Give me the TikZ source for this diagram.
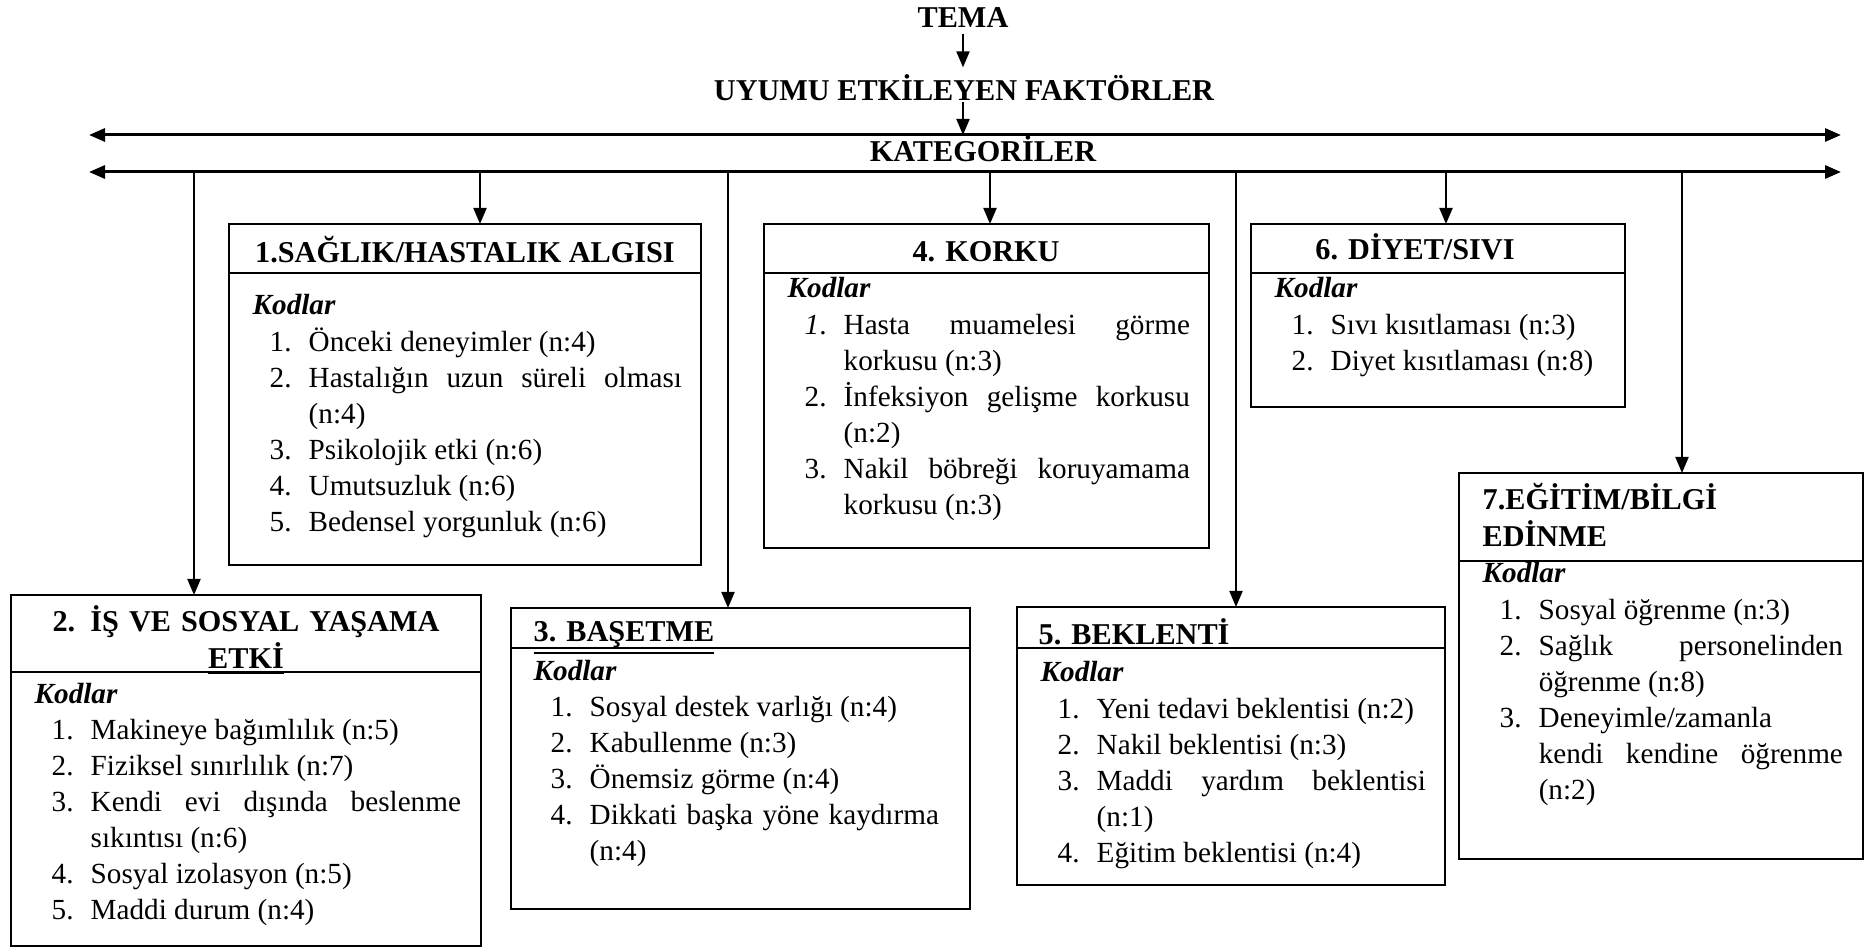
\documentclass[tikz,border=0pt]{standalone}
\usepackage{fontspec}
\setmainfont{Liberation Serif}
\usetikzlibrary{arrows.meta,positioning}

\newcommand{\govde}{\fontsize{8.3}{10.24}\selectfont\tolerance=10000}
\newcommand{\baslikfont}{\fontsize{8.6}{10.24}\selectfont\bfseries}
\newcommand{\kodlar}{\textbf{\textit{Kodlar}}\par}
\newcommand{\kod}[2]{\hangindent=0.56cm\hangafter=1\noindent\hspace*{0.17cm}\makebox[0.39cm][l]{#1.}#2\par}

\begin{document}
\begin{tikzpicture}[x=0.01cm,y=-0.01cm,
    cizgi/.style={line width=0.02cm},
    ok/.style={cizgi,-{Triangle[length=0.16cm,width=0.13cm]}},
    iki ok/.style={line width=0.03cm,{Triangle[length=0.16cm,width=0.13cm]}-{Triangle[length=0.16cm,width=0.13cm]}},
    kutu/.style={draw,cizgi,anchor=north west,inner sep=0pt,outer sep=0pt},
    ust/.style={font=\baslikfont,inner sep=0pt,anchor=base},
    baslik/.style={font=\baslikfont,inner sep=0pt,anchor=base west,align=left},
    kodmetin/.style={font=\govde,inner sep=0pt,anchor=base west,align=justify}
  ]
  \useasboundingbox (0,0) rectangle (1869,949);

  % tema
  \node[ust] (tema) at (963,28) {TEMA};
  \node[ust] (uyum) at (964,101) {UYUMU ETKİLEYEN FAKTÖRLER};
  \node[ust] (kat) at (983,162) {KATEGORİLER};

  \coordinate (us) at (89,135);
  \coordinate (ue) at (1841,135);
  \coordinate (as) at (89,172);
  \coordinate (ae) at (1841,172);

  \draw[ok,shorten <=0.05cm,shorten >=0.07cm] (tema.south) -- (tema.south |- uyum.north);
  \draw[ok] (tema.south |- uyum.south) -- (tema.south |- us);
  \draw[iki ok] (us) -- (ue);
  \draw[iki ok] (as) -- (ae);

  % 1
  \node[kutu,minimum width=4.72cm,minimum height=0.49cm] (b1) at (229,224) {};
  \node[kutu,minimum width=4.72cm,minimum height=2.92cm] (g1) at (b1.south west) {};
  \node[ust] (t1) at (465,263) {1.SAĞLIK/HASTALIK ALGISI};
  \node[kodmetin,text width=4.29cm] (k1) at (252,315) {\kodlar
    \kod{1}{Önceki deneyimler (n:4)}
    \kod{2}{Hastalığın uzun süreli olması\linebreak (n:4)}
    \kod{3}{Psikolojik etki (n:6)}
    \kod{4}{Umutsuzluk (n:6)}
    \kod{5}{Bedensel yorgunluk (n:6)}};

  % 2
  \node[kutu,minimum width=4.70cm,minimum height=0.77cm] (b2) at (11,595) {};
  \node[kutu,minimum width=4.70cm,minimum height=2.74cm] (g2) at (b2.south west) {};
  \node[ust,text width=4.5cm,align=center] (t2) at (246,632) {2. İŞ VE SOSYAL YAŞAMA\\\underline{ETKİ}};
  \node[kodmetin,text width=4.26cm] (k2) at (34,703) {\kodlar
    \kod{1}{Makineye bağımlılık (n:5)}
    \kod{2}{Fiziksel sınırlılık (n:7)}
    \kod{3}{Kendi evi dışında beslenme\linebreak sıkıntısı (n:6)}
    \kod{4}{Sosyal izolasyon (n:5)}
    \kod{5}{Maddi durum (n:4)}};

  % 3
  \node[kutu,minimum width=4.59cm,minimum height=0.40cm] (b3) at (511,608) {};
  \node[kutu,minimum width=4.59cm,minimum height=2.61cm] (g3) at (b3.south west) {};
  \node[baslik] (t3) at (533,642) {\underline{3. BAŞETME}};
  \node[kodmetin,text width=4.05cm] (k3) at (533,680) {\kodlar
    \kod{1}{Sosyal destek varlığı (n:4)}
    \kod{2}{Kabullenme (n:3)}
    \kod{3}{Önemsiz görme (n:4)}
    \kod{4}{Dikkati başka yöne kaydırma\linebreak (n:4)}};

  % 4
  \node[kutu,minimum width=4.45cm,minimum height=0.49cm] (b4) at (764,224) {};
  \node[kutu,minimum width=4.45cm,minimum height=2.75cm] (g4) at (b4.south west) {};
  \node[ust] (t4) at (986,262) {4. KORKU};
  \node[kodmetin,text width=4.02cm] (k4) at (787,298) {\kodlar
    \kod{\textit{1}}{Hasta muamelesi görme\linebreak korkusu (n:3)}
    \kod{2}{İnfeksiyon gelişme korkusu\linebreak (n:2)}
    \kod{3}{Nakil böbreği koruyamama\linebreak korkusu (n:3)}};

  % 5
  \node[kutu,minimum width=4.28cm,minimum height=0.41cm] (b5) at (1017,607) {};
  \node[kutu,minimum width=4.28cm,minimum height=2.37cm] (g5) at (b5.south west) {};
  \node[baslik] (t5) at (1038,645) {5. BEKLENTİ};
  \node[kodmetin,text width=3.85cm] (k5) at (1040,682) {\kodlar
    \kod{1}{Yeni tedavi beklentisi (n:2)}
    \kod{2}{Nakil beklentisi (n:3)}
    \kod{3}{Maddi yardım beklentisi\linebreak (n:1)}
    \kod{4}{Eğitim beklentisi (n:4)}};

  % 6
  \node[kutu,minimum width=3.74cm,minimum height=0.49cm] (b6) at (1251,224) {};
  \node[kutu,minimum width=3.74cm,minimum height=1.34cm] (g6) at (b6.south west) {};
  \node[ust] (t6) at (1415,260) {6. DİYET/SIVI};
  \node[kodmetin,text width=3.3cm] (k6) at (1274,298) {\kodlar
    \kod{1}{Sıvı kısıtlaması (n:3)}
    \kod{2}{Diyet kısıtlaması (n:8)}};

  % 7
  \node[kutu,minimum width=4.04cm,minimum height=0.88cm] (b7) at (1459,473) {};
  \node[kutu,minimum width=4.04cm,minimum height=2.98cm] (g7) at (b7.south west) {};
  \node[baslik,text width=3.6cm] (t7) at (1482,510) {7.EĞİTİM/BİLGİ\\EDİNME};
  \node[kodmetin,text width=3.6cm] (k7) at (1482,583) {\kodlar
    \kod{1}{Sosyal öğrenme (n:3)}
    \kod{2}{Sağlık personelinden\linebreak öğrenme (n:8)}
    \kod{3}{Deneyimle/zamanla\newline kendi kendine öğrenme\linebreak (n:2)}};

  % kategorilere oklar
  \coordinate (d1) at (480,172);
  \coordinate (d2) at (194,172);
  \coordinate (d3) at (728,172);
  \coordinate (d4) at (990,172);
  \coordinate (d5) at (1236,172);
  \coordinate (d6) at (1446,172);
  \coordinate (d7) at (1682,172);
  \foreach \i in {1,...,7}
    \draw[ok] (d\i) -- (d\i |- b\i.north);
\end{tikzpicture}
\end{document}
